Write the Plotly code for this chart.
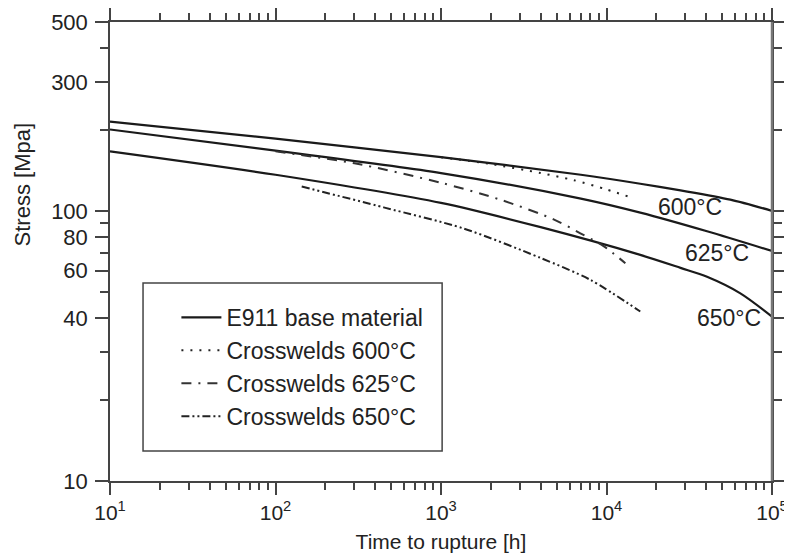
import plotly.graph_objects as go

# Base material (solid) curves
base600_t = [10, 100, 1000, 7000, 16000, 28000, 56000, 100000]
base600_s = [214, 185, 158, 136, 126, 119, 110, 100]
base625_t = [10, 100, 1000, 7000, 16000, 40500, 100000]
base625_s = [200, 167, 138, 111, 98.5, 84, 71]
base650_t = [10, 100, 1000, 4000, 16000, 28000, 40500, 64400, 100000]
base650_s = [166, 136, 107, 87, 68.7, 61.5, 57, 49.5, 40.6]

# Crosswelds
cw600_t = [1000, 2000, 4000, 6300, 10000, 13500]
cw600_s = [158, 149, 138, 130, 120, 113]
cw625_t = [100, 300, 1000, 2280, 4790, 6950, 9600, 13000]
cw625_s = [166, 150, 127, 110, 93, 82.6, 74, 64]
cw650_t = [144, 450, 1370, 3980, 8000, 16000]
cw650_s = [123, 103, 86, 67, 55.5, 42.4]

x_tickvals = [10, 100, 1000, 10000, 100000]
x_ticktext = ["10<sup>1</sup>", "10<sup>2</sup>", "10<sup>3</sup>", "10<sup>4</sup>", "10<sup>5</sup>"]
x_minor = [m * d for d in [10, 100, 1000, 10000] for m in range(2, 10)]
y_tickvals = [10, 40, 60, 80, 100, 300, 500]
y_ticktext = ["10", "40", "60", "80", "100", "300", "500"]
y_minor = [20, 30, 50, 70, 90, 200, 400]

curve_labels = ["600°C", "625°C", "650°C"]
label_pos_x = [4.507, 4.667, 4.738]
label_pos_y = [2.013, 1.844, 1.604]

FONT = "Liberation Sans, Arial, sans-serif"
INK = "#1a1a1a"

fig = go.Figure()
common = dict(mode="lines", line_shape="spline")
fig.add_trace(go.Scatter(x=base600_t, y=base600_s, name="E911 base material", legendgroup="a",
                         line=dict(color=INK, width=2.2, dash="solid", smoothing=0.8), **common))
fig.add_trace(go.Scatter(x=base625_t, y=base625_s, name="E911 base material", legendgroup="a", showlegend=False,
                         line=dict(color=INK, width=2.2, dash="solid", smoothing=0.8), **common))
fig.add_trace(go.Scatter(x=base650_t, y=base650_s, name="E911 base material", legendgroup="a", showlegend=False,
                         line=dict(color=INK, width=2.2, dash="solid", smoothing=0.8), **common))
fig.add_trace(go.Scatter(x=cw600_t, y=cw600_s, name="Crosswelds 600°C", legendgroup="b",
                         line=dict(color="#222", width=2, dash="2px,7px", smoothing=0.8), **common))
fig.add_trace(go.Scatter(x=cw625_t, y=cw625_s, name="Crosswelds 625°C", legendgroup="c",
                         line=dict(color="#333", width=2, dash="10px,7px,2px,7px", smoothing=0.8), **common))
fig.add_trace(go.Scatter(x=cw650_t, y=cw650_s, name="Crosswelds 650°C", legendgroup="d",
                         line=dict(color="#222", width=2, dash="8px,3px,2px,3px,2px,3px", smoothing=0.8), **common))

for txt, ax_, ay_ in zip(curve_labels, label_pos_x, label_pos_y):
    fig.add_annotation(x=ax_, y=ay_, text=txt, showarrow=False, xref="x", yref="y",
                       font=dict(family=FONT, size=23, color="#222"))

# y-axis title placed like the original (above centre)
fig.add_annotation(x=-0.1322, y=0.645, xref="paper", yref="paper", text="Stress [Mpa]", textangle=-90,
                   showarrow=False, xanchor="center", yanchor="middle",
                   font=dict(family=FONT, size=22, color="#222"))

# legend frame
fig.add_shape(type="rect", xref="paper", yref="paper", x0=0.0499, x1=0.5017, y0=0.0654, y1=0.4314,
              line=dict(color="#444", width=1.5), fillcolor="rgba(0,0,0,0)")
# heavier right frame line as in the original
fig.add_shape(type="line", xref="paper", yref="paper", x0=1, x1=1, y0=0, y1=1,
              line=dict(color="#777", width=2.5))

axis_common = dict(showline=True, linecolor="#444", linewidth=1.5, mirror="allticks", ticks="outside",
                   tickcolor="#444", tickwidth=1.5, showgrid=False, zeroline=False)

fig.update_xaxes(type="log", range=[1, 5], tickmode="array", tickvals=x_tickvals, ticktext=x_ticktext,
                 ticklen=12, tickfont=dict(family=FONT, size=21, color="#222"),
                 minor=dict(tickmode="array", tickvals=x_minor, ticklen=7, ticks="outside", tickcolor="#444",
                            tickwidth=1.5, showgrid=False),
                 title=dict(text="Time to rupture [h]", font=dict(family=FONT, size=21, color="#222"), standoff=11),
                 **axis_common)
fig.update_yaxes(type="log", range=[1, 2.69897], tickmode="array", tickvals=y_tickvals, ticktext=y_ticktext,
                 ticklen=13, tickfont=dict(family=FONT, size=22, color="#222"), ticklabelstandoff=3,
                 minor=dict(tickmode="array", tickvals=y_minor, ticklen=8, ticks="outside", tickcolor="#444",
                            tickwidth=1.5, showgrid=False),
                 **axis_common)

fig.update_layout(
    width=784, height=549,
    margin=dict(l=102, r=20, t=14, b=76, autoexpand=False),
    paper_bgcolor="white", plot_bgcolor="white",
    font=dict(family=FONT, color="#222"),
    legend=dict(x=0.1003, y=0.403, xanchor="left", yanchor="top", bgcolor="rgba(0,0,0,0)", borderwidth=0,
                font=dict(family=FONT, size=23, color="#222"), traceorder="grouped", tracegroupgap=0,
                itemwidth=40),
)

fig.write_html("out.html")
